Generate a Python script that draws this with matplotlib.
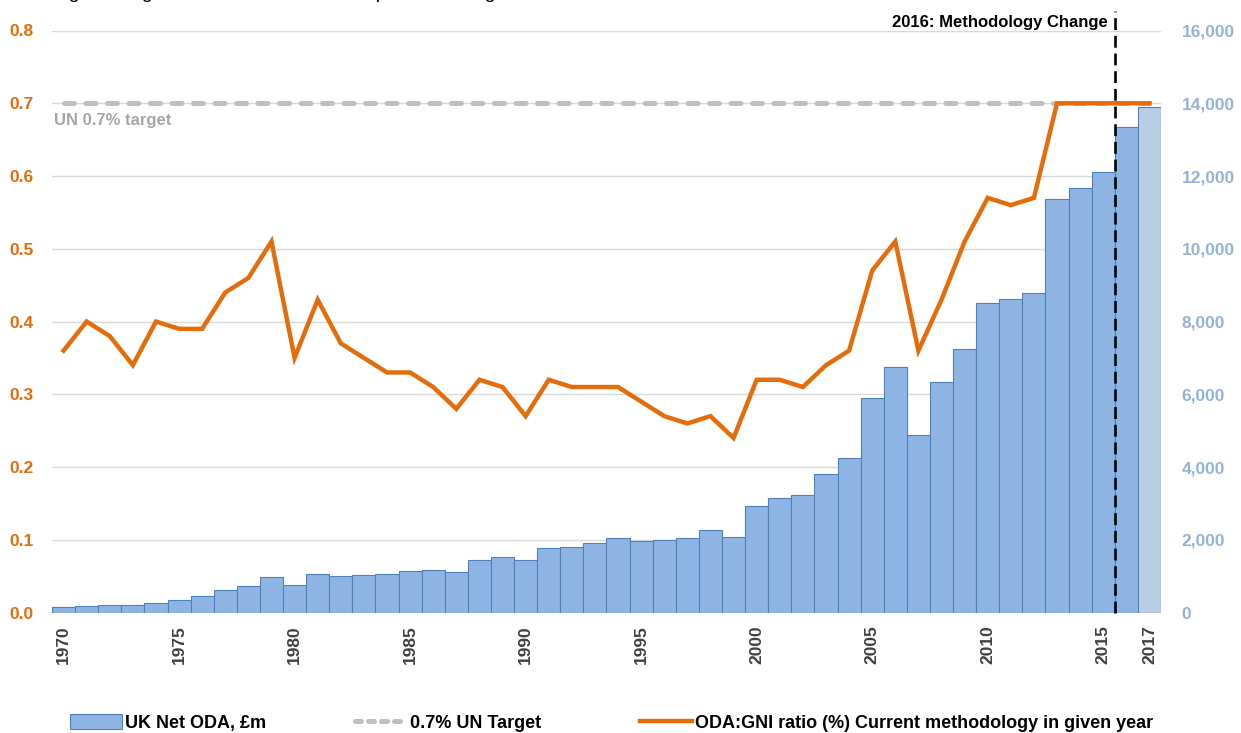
import matplotlib
matplotlib.use("Agg")
import matplotlib.pyplot as plt
from matplotlib.patches import Patch
from matplotlib.lines import Line2D
import numpy as np

plt.rcParams['font.family'] = ['Liberation Sans', 'DejaVu Sans']

# data
years = list(range(1970, 2018))
oda_gbp_m = [146, 192, 220, 220, 275, 357, 458, 623, 742, 981,
             770, 1054, 999, 1026, 1054, 1136, 1164, 1119, 1440, 1531,
             1440, 1770, 1814, 1908, 2045, 1971, 1998, 2045, 2282, 2081,
             2925, 3145, 3228, 3805, 4261, 5911, 6763, 4893, 6351, 7258,
             8522, 8632, 8797, 11381, 11665, 12115, 13353, 13911]
oda_gni_ratio = [0.36, 0.40, 0.38, 0.34, 0.40, 0.39, 0.39, 0.44, 0.46, 0.51,
                 0.35, 0.43, 0.37, 0.35, 0.33, 0.33, 0.31, 0.28, 0.32, 0.31,
                 0.27, 0.32, 0.31, 0.31, 0.31, 0.29, 0.27, 0.26, 0.27, 0.24,
                 0.32, 0.32, 0.31, 0.34, 0.36, 0.47, 0.51, 0.36, 0.43, 0.51,
                 0.57, 0.56, 0.57, 0.70, 0.70, 0.70, 0.70, 0.70]
un_target = [0.7] * len(years)
provisional_year = 2017
change_year = 2016
xtick_years = [1970, 1975, 1980, 1985, 1990, 1995, 2000, 2005, 2010, 2015, 2017]
left_ticks = [0.0, 0.1, 0.2, 0.3, 0.4, 0.5, 0.6, 0.7, 0.8]
right_ticks = list(range(0, 16001, 2000))

ORANGE = '#E46C0A'
BAR = '#8EB4E3'
BAR_LIGHT = '#B9CDE5'
BAR_EDGE = '#4F81BD'
LIGHTBLUE = '#95B3D7'
GREY = '#BFBFBF'

fig = plt.figure(figsize=(12.41, 7.33), dpi=100)
ax = fig.add_axes([52 / 1241, 1 - 612.6 / 733, (1161 - 52) / 1241, (612.6 - 30.5) / 733])
ax2 = ax.twinx()

# bars on the primary axes so the line sits above them
colors = [BAR_LIGHT if y == provisional_year else BAR for y in years]
ax.bar(years, oda_gbp_m, width=1.0, color=colors, edgecolor=BAR_EDGE, linewidth=0.8, zorder=2)
ax.set_ylim(0, 16000)
ax.set_xlim(1969.5, 2017.5)
ax.set_yticks(right_ticks)
ax.set_yticklabels([f'{v:,}' for v in right_ticks])
ax.yaxis.tick_right()
ax.tick_params(axis='y', length=0, pad=15, labelsize=12.5, labelcolor=LIGHTBLUE)
for t in ax.get_yticklabels():
    t.set_fontweight('bold')
ax.grid(axis='y', color='#D9D9D9', linewidth=1.0, zorder=0)
ax.set_axisbelow(True)

ax.set_xticks(xtick_years)
ax.set_xticklabels([str(y) for y in xtick_years], rotation=90, fontweight='bold',
                   fontsize=12.5, color='#404040')
ax.tick_params(axis='x', length=0, pad=9)

for a in (ax, ax2):
    for s in a.spines.values():
        s.set_visible(False)

# ratio line + UN target on the twin axes
ax2.plot(years, un_target, color=GREY, linewidth=3.6, dashes=(2.0, 2.3),
         dash_capstyle='round', zorder=3)
ax2.plot(years, oda_gni_ratio, color=ORANGE, linewidth=3.2, solid_joinstyle='miter', zorder=4)
ax2.set_ylim(0, 0.8)
ax2.set_yticks(left_ticks)
ax2.set_yticklabels([f'{v:.1f}' for v in left_ticks])
ax2.yaxis.tick_left()
ax2.tick_params(axis='y', length=0, pad=13, labelsize=12.5, labelcolor=ORANGE)
for t in ax2.get_yticklabels():
    t.set_fontweight('bold')

ax2.text(1969.6, 0.686, 'UN 0.7% target', color='#A6A6A6', fontsize=12, fontweight='bold',
         ha='left', va='top')

# methodology change marker
xline = change_year - 0.5
ax2.axvline(xline, ymin=0, ymax=1.034, color='black', linewidth=1.9, dashes=(4.5, 2.2),
            clip_on=False, zorder=5)
ax2.text(xline - 0.3, 0.8, '2016: Methodology Change', fontsize=12, fontweight='bold',
         ha='right', va='bottom', color='black')

# note text mostly cut off at the top of the image (as in the source)
fig.text(10 / 1241, 1 + 2 / 733, '2017 figure is lighter to indicate that it is a provisional figure',
         fontsize=14, ha='left', va='baseline', color='black')

# legend entries placed individually
leg_y = 1 - 723 / 733
entries = [
    (Patch(facecolor=BAR, edgecolor=BAR_EDGE, linewidth=0.8), 'UK Net ODA, £m', 70),
    (Line2D([], [], color=GREY, linewidth=3.6, dashes=(1.2, 1.4), dash_capstyle='round'), '0.7% UN Target', 355),
    (Line2D([], [], color=ORANGE, linewidth=3.2), 'ODA:GNI ratio (%) Current methodology in given year', 640),
]
for h, lab, xpx in entries:
    fig.legend(handles=[h], labels=[lab], loc='center left', bbox_to_anchor=(xpx / 1241, leg_y),
               frameon=False, borderpad=0, borderaxespad=0, handlelength=2.9, handleheight=0.9,
               handletextpad=0.15, prop={'weight': 'bold', 'size': 13})

fig.savefig('out.png', dpi=100)
